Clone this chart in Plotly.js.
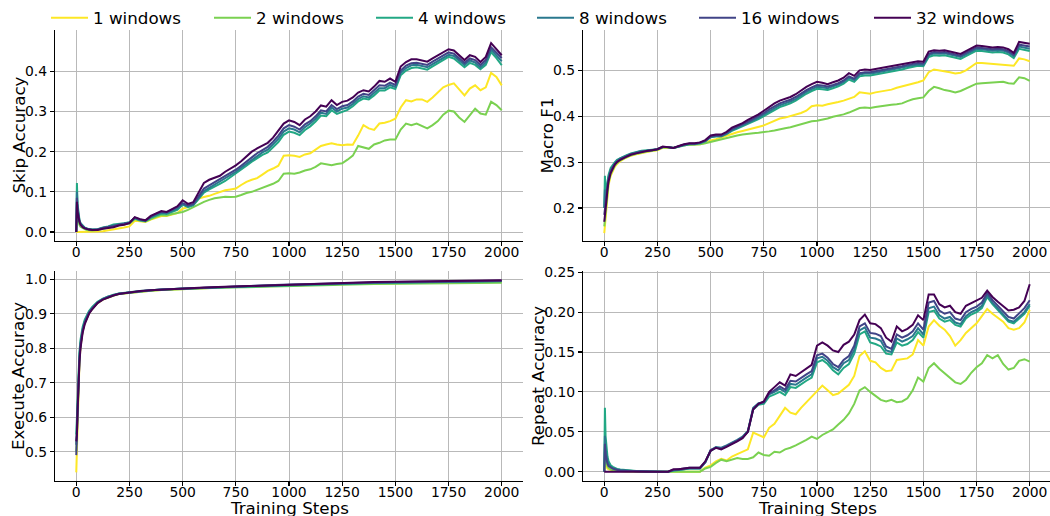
<!DOCTYPE html>
<html>
<head>
<meta charset="utf-8">
<script src="https://cdn.plot.ly/plotly-3.0.1.min.js"></script>
<style>html,body{margin:0;padding:0;background:#fff;}#chart{width:1050px;height:516px;}</style>
</head>
<body>
<div id="chart"></div>
<script>
// ---------- data ----------
const windowCounts = [1, 2, 4, 8, 16, 32];
const seriesNames = ["1 windows", "2 windows", "4 windows", "8 windows", "16 windows", "32 windows"];
const seriesColors = ["#fde725", "#7ad151", "#22a884", "#2a788e", "#414487", "#440154"];
const xTickVals = [0, 250, 500, 750, 1000, 1250, 1500, 1750, 2000];

const steps = [0,3,6,10,15,20,30,40,50,60,75,
 100,125,150,175,200,225,250,275,300,325,350,375,400,425,450,475,
 500,525,550,575,600,625,650,675,700,725,750,775,800,825,850,875,900,925,950,975,
 1000,1025,1050,1075,1100,1125,1150,1175,1200,1225,1250,1275,1300,1325,1350,1375,1400,1425,1450,1475,
 1500,1525,1550,1575,1600,1625,1650,1675,1700,1725,1750,1775,1800,1825,1850,1875,1900,1925,1950,1975,2000];

const stepsExec = [0,3,6,10,15,20,25,30,40,50,60,75,100,125,150,175,200,250,300,350,400,500,600,700,800,900,1000,1100,1200,1300,1400,1500,1600,1700,1800,1900,2000];

// Skip Accuracy
const skip1 = [0,0,0,0,0,0,0,0,0,0,0,0.001,0.002,0.004,0.006,0.009,0.011,0.014,0.028,0.027,0.025,0.031,0.036,0.04,0.04,0.043,0.047,
 .058,.062,.068,.083,.087,.09,.095,.1,.104,.106,.108,.117,.125,.13,.134,.143,.152,.158,.165,.19,.191,.19,.187,.193,.196,.205,.214,.218,.221,.218,.216,.218,.217,.24,.266,.258,.254,.27,.272,.276,.282,.31,.328,.325,.33,.33,.324,.335,.347,.36,.366,.37,.355,.34,.357,.365,.353,.36,.396,.386,.365];
const skip2 = [0,0.05,0.035,0.025,0.018,0.013,0.009,0.007,0.005,0.004,0.004,0.005,0.008,0.011,0.015,0.017,0.019,0.021,0.032,0.028,0.026,0.033,0.038,0.042,0.041,0.045,0.048,
 .05,.055,.062,.07,.075,.08,.084,.086,.088,.087,.088,.092,.097,.1,.105,.11,.115,.12,.127,.145,.146,.145,.148,.153,.156,.162,.171,.168,.166,.169,.171,.18,.19,.214,.21,.207,.218,.222,.228,.23,.23,.255,.27,.266,.27,.265,.258,.266,.276,.292,.302,.3,.285,.274,.291,.307,.295,.292,.324,.316,.303];
const skip4 = [0,0.122,0.07,0.045,0.03,0.022,0.015,0.011,0.009,0.007,0.006,0.007,0.011,0.014,0.019,0.02,0.022,0.024,0.034,0.029,0.027,0.035,0.041,0.046,0.045,0.05,0.055,
 .068,.062,.066,.083,.098,.106,.114,.12,.127,.136,.146,.155,.165,.175,.184,.192,.198,.21,.224,.242,.25,.247,.241,.254,.263,.275,.29,.288,.303,.294,.3,.304,.313,.325,.332,.33,.34,.352,.352,.36,.356,.39,.402,.408,.41,.407,.404,.412,.42,.428,.436,.432,.421,.41,.421,.416,.405,.416,.448,.433,.415];
const skip8 = [0,0.1,0.06,0.04,0.028,0.021,0.014,0.01,0.008,0.007,0.006,0.007,0.01,0.013,0.017,0.019,0.021,0.024,0.035,0.03,0.028,0.037,0.043,0.048,0.047,0.052,0.058,
 .07,.064,.068,.086,.102,.11,.118,.125,.132,.141,.15,.16,.17,.18,.19,.198,.205,.218,.232,.25,.258,.255,.248,.261,.27,.282,.297,.294,.31,.3,.307,.31,.319,.331,.338,.335,.346,.358,.358,.366,.361,.396,.408,.415,.416,.413,.41,.418,.426,.434,.441,.438,.427,.416,.427,.422,.41,.422,.454,.44,.425];
const skip16 = [0,0.085,0.055,0.038,0.027,0.02,0.013,0.01,0.008,0.006,0.005,0.006,0.01,0.012,0.015,0.018,0.02,0.023,0.036,0.031,0.028,0.038,0.045,0.05,0.049,0.055,0.062,
 .072,.066,.07,.09,.108,.116,.124,.13,.138,.146,.155,.165,.176,.186,.196,.204,.212,.225,.24,.258,.266,.262,.255,.268,.276,.288,.303,.3,.316,.306,.313,.316,.325,.337,.344,.341,.352,.365,.364,.372,.366,.402,.414,.42,.421,.418,.416,.424,.432,.44,.447,.444,.432,.421,.432,.428,.416,.428,.46,.447,.433];
const skip32 = [0,0.075,0.05,0.035,0.025,0.018,0.012,0.009,0.007,0.006,0.005,0.005,0.008,0.01,0.012,0.016,0.018,0.022,0.037,0.032,0.029,0.04,0.046,0.052,0.05,0.057,0.064,
 .079,.07,.074,.1,.122,.13,.136,.14,.15,.157,.166,.176,.187,.2,.208,.216,.222,.235,.252,.27,.278,.274,.266,.28,.288,.3,.315,.312,.328,.316,.324,.327,.335,.347,.353,.35,.362,.376,.374,.382,.374,.412,.423,.43,.43,.427,.424,.432,.44,.448,.455,.452,.44,.428,.44,.436,.423,.436,.47,.455,.44];

// Macro F1
const macro1 = [0.145,0.16,0.18,0.2,0.228,0.25,0.27,0.282,0.29,0.296,0.302,0.309,0.314,0.317,0.32,0.322,0.324,0.326,0.331,0.332,0.331,0.334,0.337,0.338,0.338,0.339,0.342,
 .347,.35,.354,.358,.362,.365,.368,.371,.374,.377,.38,.385,.39,.395,.397,.4,.403,.407,.412,.422,.424,.423,.426,.428,.431,.434,.438,.442,.452,.45,.449,.452,.454,.456,.458,.462,.465,.467,.47,.474,.478,.496,.502,.5,.499,.496,.493,.495,.5,.508,.516,.516,.515,.514,.513,.512,.511,.51,.526,.524,.52];
const macro2 = [0.16,0.175,0.19,0.21,0.235,0.255,0.274,0.285,0.293,0.298,0.304,0.31,0.315,0.318,0.321,0.323,0.325,0.327,0.332,0.332,0.331,0.334,0.337,0.338,0.338,0.339,0.341,
 .344,.347,.349,.353,.356,.358,.36,.362,.363,.364,.365,.367,.369,.372,.374,.376,.379,.382,.386,.389,.39,.392,.395,.399,.401,.404,.408,.413,.418,.419,.418,.42,.422,.423,.425,.426,.428,.433,.437,.439,.441,.455,.464,.461,.457,.455,.452,.455,.46,.466,.471,.472,.473,.474,.474,.475,.472,.471,.485,.483,.477];
const macro4 = [0.2,0.27,0.23,0.24,0.257,0.272,0.287,0.295,0.3,0.305,0.309,0.314,0.319,0.322,0.325,0.326,0.327,0.328,0.333,0.333,0.331,0.334,0.337,0.339,0.339,0.341,0.345,
 .354,.356,.356,.361,.368,.373,.378,.383,.388,.394,.4,.407,.414,.42,.424,.428,.434,.442,.449,.455,.46,.459,.457,.461,.465,.471,.48,.475,.487,.489,.489,.491,.493,.495,.497,.5,.502,.505,.508,.51,.509,.529,.533,.532,.533,.53,.528,.525,.531,.537,.543,.542,.54,.539,.54,.539,.535,.527,.547,.545,.542];
const macro8 = [0.2,0.24,0.22,0.235,0.252,0.267,0.283,0.292,0.298,0.303,0.308,0.313,0.318,0.321,0.324,0.325,0.327,0.328,0.333,0.333,0.331,0.335,0.338,0.34,0.34,0.342,0.346,
 .355,.357,.357,.362,.37,.375,.38,.386,.391,.397,.404,.411,.418,.424,.428,.432,.438,.446,.453,.459,.464,.463,.461,.465,.469,.475,.484,.479,.491,.493,.493,.495,.497,.499,.501,.504,.506,.509,.511,.513,.512,.533,.537,.536,.537,.534,.532,.529,.535,.541,.547,.546,.544,.543,.544,.543,.539,.531,.552,.55,.547];
const macro16 = [0.185,0.2,0.21,0.225,0.245,0.262,0.279,0.289,0.296,0.301,0.306,0.312,0.317,0.32,0.323,0.325,0.326,0.328,0.333,0.333,0.331,0.335,0.338,0.34,0.34,0.342,0.347,
 .356,.358,.358,.364,.372,.377,.382,.388,.394,.4,.407,.415,.422,.428,.432,.436,.442,.45,.457,.463,.468,.467,.465,.468,.472,.478,.487,.482,.494,.496,.496,.498,.5,.502,.504,.507,.509,.512,.514,.516,.515,.536,.54,.539,.54,.537,.535,.532,.538,.544,.55,.549,.547,.546,.547,.546,.542,.534,.556,.554,.552];
const macro32 = [0.17,0.18,0.195,0.215,0.24,0.258,0.276,0.287,0.295,0.3,0.305,0.311,0.316,0.319,0.322,0.324,0.326,0.328,0.334,0.333,0.331,0.335,0.339,0.341,0.341,0.343,0.348,
 .358,.36,.36,.366,.375,.38,.385,.392,.398,.404,.412,.42,.428,.434,.438,.442,.448,.456,.464,.47,.475,.473,.47,.474,.478,.484,.494,.488,.5,.502,.501,.503,.505,.507,.509,.512,.513,.516,.518,.52,.519,.541,.544,.543,.544,.541,.539,.536,.542,.548,.554,.553,.551,.55,.551,.55,.546,.538,.562,.56,.558];

// Execute Accuracy
const exec1 = [0.44,0.52,0.6,0.69,0.76,0.805,0.83,0.85,0.874,0.89,0.901,0.914,0.931,0.941,0.948,0.953,0.957,0.961,0.965,0.967,0.969,0.972,0.975,0.977,0.979,0.981,0.983,0.985,0.986,0.987,0.988,0.989,0.99,0.991,0.991,0.992,0.992];
const exec2 = [0.5,0.56,0.63,0.71,0.77,0.81,0.833,0.852,0.876,0.892,0.903,0.915,0.932,0.942,0.948,0.953,0.957,0.961,0.965,0.967,0.969,0.972,0.974,0.976,0.977,0.979,0.981,0.983,0.984,0.985,0.986,0.987,0.988,0.988,0.989,0.989,0.99];
const exec4 = [0.55,0.6,0.66,0.74,0.79,0.825,0.845,0.862,0.883,0.898,0.908,0.92,0.935,0.944,0.95,0.955,0.959,0.963,0.966,0.968,0.97,0.973,0.975,0.977,0.979,0.981,0.983,0.985,0.987,0.988,0.989,0.99,0.991,0.992,0.993,0.993,0.994];
const exec8 = [0.52,0.57,0.64,0.72,0.78,0.815,0.837,0.855,0.878,0.894,0.905,0.917,0.933,0.943,0.95,0.954,0.958,0.962,0.966,0.968,0.97,0.973,0.976,0.978,0.98,0.982,0.984,0.986,0.988,0.989,0.99,0.991,0.992,0.993,0.994,0.994,0.995];
const exec16 = [0.49,0.56,0.63,0.71,0.77,0.81,0.832,0.85,0.874,0.891,0.902,0.915,0.932,0.942,0.949,0.954,0.958,0.962,0.966,0.968,0.97,0.973,0.976,0.978,0.98,0.983,0.985,0.987,0.989,0.99,0.991,0.992,0.993,0.994,0.995,0.995,0.996];
const exec32 = [0.53,0.55,0.62,0.7,0.76,0.8,0.825,0.845,0.87,0.888,0.9,0.913,0.931,0.941,0.948,0.953,0.957,0.962,0.966,0.968,0.97,0.973,0.976,0.978,0.98,0.983,0.986,0.988,0.99,0.991,0.992,0.993,0.994,0.995,0.996,0.996,0.997];

// Repeat Accuracy
const repeat1 = [0,0.015,0.009,0.006,0.004,0.003,0.002,0.0014,0.001,0.0007,0.0005,0.0003,0.0002,0.0001,0,0,0,0,0,0,0,0,0,0,0,0,0.005,
 .008,.013,.016,.014,.019,.022,.025,.028,.049,.046,.043,.055,.06,.07,.08,.074,.072,.08,.087,.094,.1,.108,.102,.096,.098,.103,.109,.12,.145,.151,.139,.137,.13,.126,.127,.14,.141,.142,.147,.165,.158,.182,.19,.183,.178,.17,.158,.165,.174,.18,.186,.195,.204,.198,.193,.188,.18,.178,.18,.187,.203];
const repeat2 = [0,0.025,0.015,0.01,0.007,0.005,0.003,0.0022,0.0016,0.0012,0.0009,0.0006,0.0004,0.0002,0.0001,0,0,0,0,0,0,0,0,0,0,0,0.004,
 .006,.011,.015,.013,.015,.017,.016,.016,.018,.024,.021,.02,.025,.024,.028,.03,.033,.036,.04,.044,.041,.046,.049,.053,.059,.065,.073,.085,.102,.106,.1,.095,.09,.088,.09,.087,.088,.092,.102,.118,.113,.13,.136,.129,.123,.117,.112,.11,.115,.124,.131,.136,.146,.142,.146,.135,.128,.13,.139,.141,.138];
const repeat4 = [0,0.08,0.045,0.028,0.019,0.013,0.008,0.006,0.0045,0.0035,0.0026,0.0017,0.0011,0.0008,0.0005,0.0004,0.0003,0.0002,0.0001,0,0.001,0.002,0.003,0.004,0.004,0.004,0.012,
 .026,.03,.029,.032,.035,.039,.043,.05,.078,.084,.085,.094,.097,.1,.096,.106,.105,.11,.114,.118,.137,.14,.135,.127,.122,.13,.135,.148,.172,.176,.162,.16,.157,.148,.147,.162,.158,.16,.165,.175,.168,.2,.202,.192,.188,.19,.184,.182,.192,.197,.2,.205,.219,.21,.203,.195,.188,.186,.192,.198,.208];
const repeat8 = [0,0.045,0.028,0.019,0.013,0.009,0.006,0.0045,0.0035,0.0028,0.002,0.0013,0.0009,0.0006,0.0004,0.0003,0.0002,0.0001,0,0,0.002,0.002,0.003,0.004,0.004,0.004,0.012,
 .027,.031,.03,.033,.036,.04,.044,.051,.08,.086,.087,.097,.1,.104,.1,.11,.109,.114,.118,.122,.142,.144,.139,.131,.127,.136,.14,.153,.177,.181,.168,.167,.164,.152,.15,.167,.163,.166,.17,.18,.172,.205,.207,.196,.192,.194,.187,.185,.195,.2,.203,.208,.221,.212,.205,.197,.19,.188,.194,.2,.21];
const repeat16 = [0,0.035,0.022,0.015,0.01,0.007,0.005,0.004,0.003,0.002,0.0015,0.001,0.0007,0.0005,0.0003,0.0002,0.0001,0,0,0,0.002,0.003,0.004,0.005,0.005,0.005,0.012,
 .027,.03,.029,.032,.035,.039,.043,.05,.079,.085,.087,.098,.102,.107,.103,.114,.113,.118,.122,.126,.146,.148,.143,.135,.131,.14,.145,.158,.182,.186,.174,.173,.17,.157,.154,.172,.168,.171,.176,.186,.178,.212,.214,.202,.198,.2,.192,.19,.2,.204,.207,.212,.224,.215,.208,.2,.194,.192,.198,.205,.215];
const repeat32 = [0,0,0,0,0,0,0,0,0,0,0,0,0,0,0,0,0,0,0,0,0.003,0.003,0.004,0.005,0.005,0.005,0.013,
 .026,.03,.028,.031,.034,.038,.042,.05,.078,.085,.088,.1,.106,.112,.108,.122,.12,.125,.13,.134,.158,.162,.158,.152,.15,.159,.163,.172,.19,.197,.186,.185,.18,.168,.163,.182,.176,.179,.184,.196,.19,.222,.222,.21,.206,.208,.2,.198,.208,.211,.214,.218,.227,.219,.213,.207,.202,.203,.206,.214,.235];

// ---------- build ----------
const W = 1050, H = 516;
const panels = [
  {x: steps,     ys: [skip1, skip2, skip4, skip8, skip16, skip32],         xa: 'x',  ya: 'y',  legend: true},
  {x: steps,     ys: [macro1, macro2, macro4, macro8, macro16, macro32],   xa: 'x2', ya: 'y2', legend: false},
  {x: stepsExec, ys: [exec1, exec2, exec4, exec8, exec16, exec32],         xa: 'x3', ya: 'y3', legend: false},
  {x: steps,     ys: [repeat1, repeat2, repeat4, repeat8, repeat16, repeat32], xa: 'x4', ya: 'y4', legend: false}
];
const legendIds = ['legend', 'legend2', 'legend3', 'legend4', 'legend5', 'legend6'];
const traces = [];
panels.forEach(p => {
  p.ys.forEach((y, i) => {
    traces.push({
      type: 'scatter', mode: 'lines',
      x: p.x.slice(0, y.length), y: y,
      xaxis: p.xa, yaxis: p.ya,
      name: seriesNames[i], legendgroup: seriesNames[i],
      legend: legendIds[i],
      showlegend: p.legend,
      line: {color: seriesColors[i], width: 2},
      hoverinfo: 'skip'
    });
  });
});

const px2fx = v => v / W;
const px2fy = v => 1 - v / H;
const axBase = {
  showline: true, linecolor: 'black', linewidth: 1.1,
  ticks: 'outside', ticklen: 4, tickwidth: 1.1, tickcolor: 'black',
  showgrid: true, gridcolor: '#b9b9b9', gridwidth: 1,
  zeroline: false, mirror: false,
  tickfont: {size: 13.9, color: 'black'}
};
const xExtra = {ticklabelstandoff: -6};
const leftDom = [px2fx(55), px2fx(523)];
const rightDom = [px2fx(583), 1];
const topDom = [px2fy(241), px2fy(30)];
const botDom = [px2fy(481), px2fy(271)];
const xr = [-100, 2100];
const xr2 = [-100, 2100 - 1 / 0.213];

const layout = {
  width: W, height: H,
  margin: {l: 0, r: 0, t: 0, b: 0},
  paper_bgcolor: 'white', plot_bgcolor: 'white',
  font: {family: 'DejaVu Sans, sans-serif', size: 13.9, color: 'black'},
  showlegend: true,
  xaxis:  Object.assign({}, axBase, xExtra, {domain: leftDom,  range: xr,  tickvals: xTickVals, tickformat: 'd', anchor: 'y'}),
  yaxis:  Object.assign({}, axBase, {domain: topDom,   range: [-0.0224, 0.5028], tickvals: [0, 0.1, 0.2, 0.3, 0.4], tickformat: '.1f', anchor: 'x'}),
  xaxis2: Object.assign({}, axBase, xExtra, {domain: rightDom, range: xr2, tickvals: xTickVals, tickformat: 'd', anchor: 'y2'}),
  yaxis2: Object.assign({}, axBase, {domain: topDom,   range: [0.128, 0.588], tickvals: [0.2, 0.3, 0.4, 0.5], tickformat: '.1f', anchor: 'x2'}),
  xaxis3: Object.assign({}, axBase, xExtra, {domain: leftDom,  range: xr,  tickvals: xTickVals, tickformat: 'd', anchor: 'y3'}),
  yaxis3: Object.assign({}, axBase, {domain: botDom,   range: [0.415, 1.024], tickvals: [0.5, 0.6, 0.7, 0.8, 0.9, 1.0], tickformat: '.1f', anchor: 'x3'}),
  xaxis4: Object.assign({}, axBase, xExtra, {domain: rightDom, range: xr2, tickvals: xTickVals, tickformat: 'd', anchor: 'y4'}),
  yaxis4: Object.assign({}, axBase, {domain: botDom,   range: [-0.0117, 0.2516], tickvals: [0, 0.05, 0.1, 0.15, 0.2, 0.25], tickformat: '.2f', anchor: 'x4'}),
  annotations: [
    {text: 'Skip Accuracy',    x: px2fx(18),  y: px2fy(135.5), textangle: -90},
    {text: 'Macro F1',         x: px2fx(546), y: px2fy(135.5), textangle: -90},
    {text: 'Execute Accuracy', x: px2fx(18),  y: px2fy(376),   textangle: -90},
    {text: 'Repeat Accuracy',  x: px2fx(538), y: px2fy(376),   textangle: -90},
    {text: 'Training Steps',   x: px2fx(289), y: px2fy(508),   textangle: 0},
    {text: 'Training Steps',   x: px2fx(817), y: px2fy(508),   textangle: 0}
  ].map(a => Object.assign({xref: 'paper', yref: 'paper', showarrow: false, xanchor: 'center', yanchor: 'middle', font: {size: 16.7, color: 'black'}}, a))
};
// one legend box per entry, placed where the reference's legend columns sit
const legendTextStart = [95, 258, 420, 581, 743, 918];
legendIds.forEach((id, i) => {
  layout[id] = {
    orientation: 'h', x: px2fx(legendTextStart[i] - 49), y: px2fy(18), xanchor: 'left', yanchor: 'middle',
    font: {size: 16.7, color: 'black'}, itemwidth: 37, bgcolor: 'rgba(0,0,0,0)'
  };
});

Plotly.newPlot('chart', traces, layout, {displayModeBar: false, staticPlot: true});
</script>
</body>
</html>
